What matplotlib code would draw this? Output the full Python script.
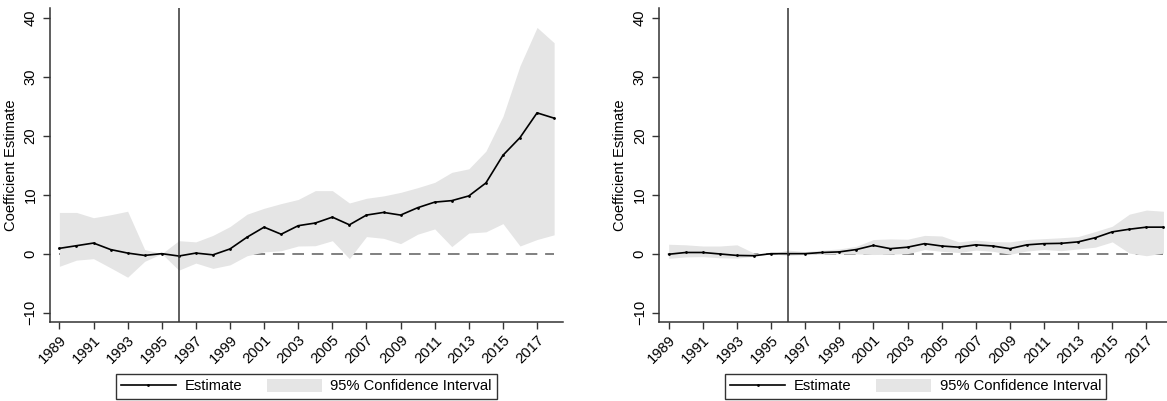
import numpy as np
import matplotlib.pyplot as plt
from matplotlib.lines import Line2D
from matplotlib.patches import Patch

plt.rcParams['font.family'] = ['Liberation Sans', 'DejaVu Sans']
plt.rcParams['font.size'] = 10.6

years = np.arange(1989, 2019)
tick_years = np.arange(1989, 2018, 2)
event_year = 1996

# left panel
est_a = [0.9, 1.35, 1.8, 0.7, 0.1, -0.3, 0.0, -0.4, 0.1, -0.2,
         0.8, 2.8, 4.5, 3.3, 4.75, 5.2, 6.2, 4.9, 6.55, 7.0,
         6.55, 7.8, 8.75, 9.0, 9.8, 12.0, 16.7, 19.7, 23.9, 23.0]
hi_a = [7.0, 7.0, 6.1, 6.6, 7.2, 0.7, 0.0, 2.2, 2.0, 3.1,
        4.6, 6.7, 7.7, 8.5, 9.2, 10.7, 10.7, 8.6, 9.4, 9.8,
        10.4, 11.2, 12.1, 13.8, 14.4, 17.4, 23.3, 31.9, 38.4, 35.8]
lo_a = [-2.15, -1.1, -0.85, -2.4, -4.0, -1.3, 0.0, -2.8, -1.6, -2.5,
        -1.9, -0.35, 0.3, 0.5, 1.3, 1.35, 2.2, -0.85, 2.9, 2.6,
        1.7, 3.3, 4.2, 1.2, 3.5, 3.7, 5.1, 1.3, 2.4, 3.2]

# right panel
est_b = [-0.1, 0.2, 0.2, -0.05, -0.3, -0.35, 0.0, 0.0, 0.0, 0.2,
         0.3, 0.7, 1.4, 0.85, 1.1, 1.7, 1.3, 1.1, 1.5, 1.3,
         0.85, 1.5, 1.7, 1.75, 2.0, 2.7, 3.7, 4.15, 4.5, 4.5]
hi_b = [1.6, 1.5, 1.3, 1.3, 1.5, 0.1, 0.0, 0.6, 0.35, 0.6,
        0.8, 1.25, 2.4, 2.5, 2.45, 3.1, 3.0, 2.0, 2.3, 2.05,
        2.0, 2.4, 2.55, 2.7, 2.9, 3.75, 4.65, 6.7, 7.4, 7.2]
lo_b = [-0.8, -0.55, -0.5, -0.7, -0.75, -0.45, 0.0, -0.3, -0.15, -0.1,
        -0.05, -0.05, -0.15, -0.1, 0.0, 0.7, 0.4, 0.2, 0.6, 0.4,
        -0.1, 0.45, 0.7, 0.5, 0.8, 1.1, 2.0, 0.1, -0.35, 0.1]

ci_col = '#e5e5e5'
axis_col = '#333333'

fig = plt.figure(figsize=(11.67, 4.01), dpi=100)
w = 513 / 1167
h = 314 / 401
y0 = 79 / 401
ax1 = fig.add_axes([50 / 1167, y0, w, h])
ax2 = fig.add_axes([659.3 / 1167, y0, w, h])


def draw(ax, est, lo, hi):
    ax.plot([years[0], years[-1]], [0, 0], color='#808080', lw=1.4,
            dashes=(6, 4), zorder=1)
    ax.fill_between(years, lo, hi, color=ci_col, lw=0, zorder=2)
    ax.plot(years, est, color='black', lw=1.2, marker='o', markersize=1.0, zorder=3)
    ax.axvline(event_year, color=axis_col, lw=1.1, zorder=4)
    ax.set_xlim(1988.45, 2018.52)
    ax.set_ylim(-11.6, 41.7)
    ax.set_yticks([-10, 0, 10, 20, 30, 40])
    ax.set_xticks(tick_years)
    ax.set_xticklabels([str(y) for y in tick_years], rotation=45, ha='right',
                       rotation_mode='anchor')
    for lab in ax.get_yticklabels():
        lab.set_rotation(90)
        lab.set_va('center')
    ax.tick_params(axis='both', colors=axis_col, labelcolor='black', length=5, width=1)
    ax.tick_params(axis='x', pad=3)
    ax.tick_params(axis='y', pad=4)
    ax.set_ylabel('Coefficient Estimate', labelpad=4)
    for s in ['top', 'right']:
        ax.spines[s].set_visible(False)
    for s in ['left', 'bottom']:
        ax.spines[s].set_color(axis_col)
        ax.spines[s].set_linewidth(1.1)
    handles = [Line2D([], [], color='black', lw=1.2, marker='o', markersize=1.0),
               Patch(facecolor=ci_col, edgecolor='none')]
    leg = ax.legend(handles, ['Estimate', '95% Confidence Interval'], ncol=2,
                    loc='center', bbox_to_anchor=(0.5, -0.204), fancybox=False,
                    edgecolor=axis_col, framealpha=1, borderpad=0.35,
                    handlelength=3.7, handleheight=1.0, handletextpad=0.6,
                    columnspacing=1.7, borderaxespad=0)
    leg.get_frame().set_linewidth(1.0)


draw(ax1, est_a, lo_a, hi_a)
draw(ax2, est_b, lo_b, hi_b)

fig.savefig('out.png', dpi=100)
